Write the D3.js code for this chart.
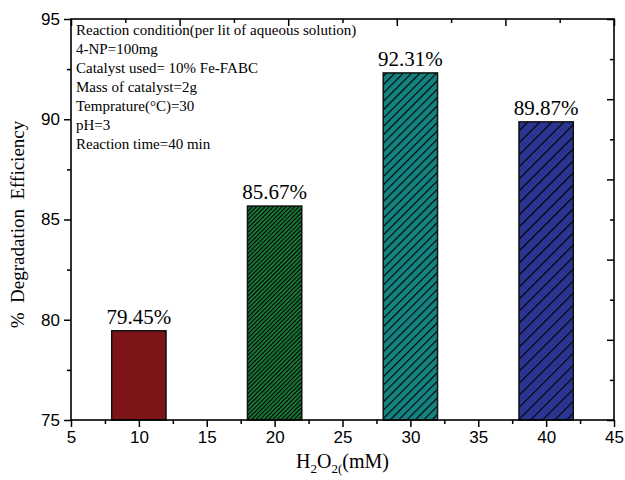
<!DOCTYPE html>
<html>
<head>
<meta charset="utf-8">
<script src="https://cdn.jsdelivr.net/npm/d3@7"></script>
<style>
  body { margin: 0; background: #fff; }
</style>
</head>
<body>
<div id="chart"></div>
<script>
// data
const concentrations = [10, 20, 30, 40];          // H2O2 (mM)
const efficiency = [79.45, 85.67, 92.31, 89.87];  // % degradation
const xMajorTicks = [5, 10, 15, 20, 25, 30, 35, 40, 45];
const xMinorTicks = [7.5, 12.5, 17.5, 22.5, 27.5, 32.5, 37.5, 42.5];
const yMajorTicks = [75, 80, 85, 90, 95];
const yMinorTicks = [77.5, 82.5, 87.5, 92.5];
const topMajorTicks = [5, 13, 21, 29, 37, 45];
const topMinorTicks = [9, 17, 25, 33, 41];
const rightMajorTicks = [75, 79, 83, 87, 91, 95];
const rightMinorTicks = [77, 81, 85, 89, 93];
const conditionLines = [
    'Reaction condition(per lit of aqueous solution)',
    '4-NP=100mg',
    'Catalyst used= 10% Fe-FABC',
    'Mass of catalyst=2g',
    'Temprature(\u00B0C)=30',
    'pH=3',
    'Reaction time=40 min'
];

// styles
const barColors = ['#7c1418', '#1a7a3a', '#15827f', '#2b3591'];
const hatchGap = [0, 3.0, 5.9, 8.5];   // 0 = plain fill
const serif = '"Liberation Serif", "Times New Roman", serif';
const sans = '"Liberation Sans", Arial, sans-serif';

let width = 625, height = 480;
let margin = { top: 19, right: 11, bottom: 60, left: 71 };

let svg = d3.select('#chart')
    .append('svg')
    .attr('width', width)
    .attr('height', height)
    .style('background', '#fff');

let xscale = d3.scaleLinear()
    .domain([5, 45])
    .range([margin.left, width - margin.right]);

let yscale = d3.scaleLinear()
    .domain([75, 95])
    .range([height - margin.bottom, margin.top]);

// hatch patterns
let defs = svg.append('defs');
barColors.forEach(function(c, i) {
    if (!hatchGap[i]) return;
    let p = defs.append('pattern')
        .attr('id', 'hatch' + i)
        .attr('patternUnits', 'userSpaceOnUse')
        .attr('width', hatchGap[i])
        .attr('height', hatchGap[i])
        .attr('patternTransform', 'rotate(45)');
    p.append('rect')
        .attr('width', hatchGap[i])
        .attr('height', hatchGap[i])
        .attr('fill', c);
    p.append('line')
        .attr('x1', 0).attr('y1', 0)
        .attr('x2', 0).attr('y2', hatchGap[i])
        .attr('stroke', '#000')
        .attr('stroke-width', 2.2);
});

// bars
let barW = xscale(4) - xscale(0);
svg.selectAll('.bar')
    .data(concentrations)
    .enter()
    .append('rect')
    .attr('class', 'bar')
    .attr('x', d => xscale(d) - barW / 2)
    .attr('y', (d, i) => yscale(efficiency[i]))
    .attr('width', barW)
    .attr('height', (d, i) => yscale(75) - yscale(efficiency[i]))
    .attr('fill', (d, i) => hatchGap[i] ? 'url(#hatch' + i + ')' : barColors[i])
    .attr('stroke', '#111')
    .attr('stroke-width', 1.5);

// value labels
svg.selectAll('.val')
    .data(concentrations)
    .enter()
    .append('text')
    .attr('class', 'val')
    .attr('x', d => xscale(d))
    .attr('y', (d, i) => yscale(efficiency[i]) - 7)
    .attr('text-anchor', 'middle')
    .style('font-family', serif)
    .style('font-size', '21px')
    .text((d, i) => efficiency[i].toFixed(2) + '%');

// axes helper
function styleAxis(g) {
    g.select('.domain').remove();
    g.selectAll('line').attr('stroke', '#000').attr('stroke-width', 1.5);
}

// bottom axis (outward ticks)
svg.append('g')
    .attr('transform', `translate(0, ${yscale(75)})`)
    .call(d3.axisBottom(xscale).tickValues(xMajorTicks).tickSize(7).tickPadding(4))
    .call(styleAxis)
    .selectAll('text')
    .style('font-family', sans)
    .style('font-size', '17px')
    .attr('fill', '#000');

svg.append('g')
    .attr('transform', `translate(0, ${yscale(75)})`)
    .call(d3.axisBottom(xscale).tickValues(xMinorTicks).tickSize(4).tickFormat(''))
    .call(styleAxis);

// left axis (outward ticks)
svg.append('g')
    .attr('transform', `translate(${xscale(5)}, 0)`)
    .call(d3.axisLeft(yscale).tickValues(yMajorTicks).tickSize(7).tickPadding(4))
    .call(styleAxis)
    .selectAll('text')
    .style('font-family', sans)
    .style('font-size', '17px')
    .attr('fill', '#000');

svg.append('g')
    .attr('transform', `translate(${xscale(5)}, 0)`)
    .call(d3.axisLeft(yscale).tickValues(yMinorTicks).tickSize(4).tickFormat(''))
    .call(styleAxis);

// top axis (inward ticks)
svg.append('g')
    .attr('transform', `translate(0, ${yscale(95)})`)
    .call(d3.axisBottom(xscale).tickValues(topMajorTicks).tickSize(7).tickFormat(''))
    .call(styleAxis);
svg.append('g')
    .attr('transform', `translate(0, ${yscale(95)})`)
    .call(d3.axisBottom(xscale).tickValues(topMinorTicks).tickSize(4).tickFormat(''))
    .call(styleAxis);

// right axis (inward ticks)
svg.append('g')
    .attr('transform', `translate(${xscale(45)}, 0)`)
    .call(d3.axisLeft(yscale).tickValues(rightMajorTicks).tickSize(7).tickFormat(''))
    .call(styleAxis);
svg.append('g')
    .attr('transform', `translate(${xscale(45)}, 0)`)
    .call(d3.axisLeft(yscale).tickValues(rightMinorTicks).tickSize(4).tickFormat(''))
    .call(styleAxis);

// frame
svg.append('rect')
    .attr('x', xscale(5))
    .attr('y', yscale(95))
    .attr('width', xscale(45) - xscale(5))
    .attr('height', yscale(75) - yscale(95))
    .attr('fill', 'none')
    .attr('stroke', '#000')
    .attr('stroke-width', 1.6);

// reaction conditions
svg.append('g')
    .selectAll('text')
    .data(conditionLines)
    .enter()
    .append('text')
    .attr('x', xscale(5) + 5)
    .attr('y', (d, i) => 35 + i * 19)
    .style('font-family', serif)
    .style('font-size', '15px')
    .text(d => d);

// y label
svg.append('text')
    .attr('transform', `translate(24, ${(yscale(75) + yscale(95)) / 2 + 5}) rotate(-90)`)
    .attr('text-anchor', 'middle')
    .style('font-family', serif)
    .style('font-size', '19px')
    .style('white-space', 'pre')
    .text('%  Degradation  Efficiency');

// x label H2O2(mM)
let xl = svg.append('text')
    .attr('x', (xscale(5) + xscale(45)) / 2)
    .attr('y', 468)
    .attr('text-anchor', 'middle')
    .style('font-family', serif)
    .style('font-size', '20px');
xl.append('tspan').text('H');
xl.append('tspan').attr('dy', 5).style('font-size', '13px').text('2');
xl.append('tspan').attr('dy', -5).text('O');
xl.append('tspan').attr('dy', 5).style('font-size', '13px').text('2(');
xl.append('tspan').attr('dy', -5).text('(mM)');
</script>
</body>
</html>
